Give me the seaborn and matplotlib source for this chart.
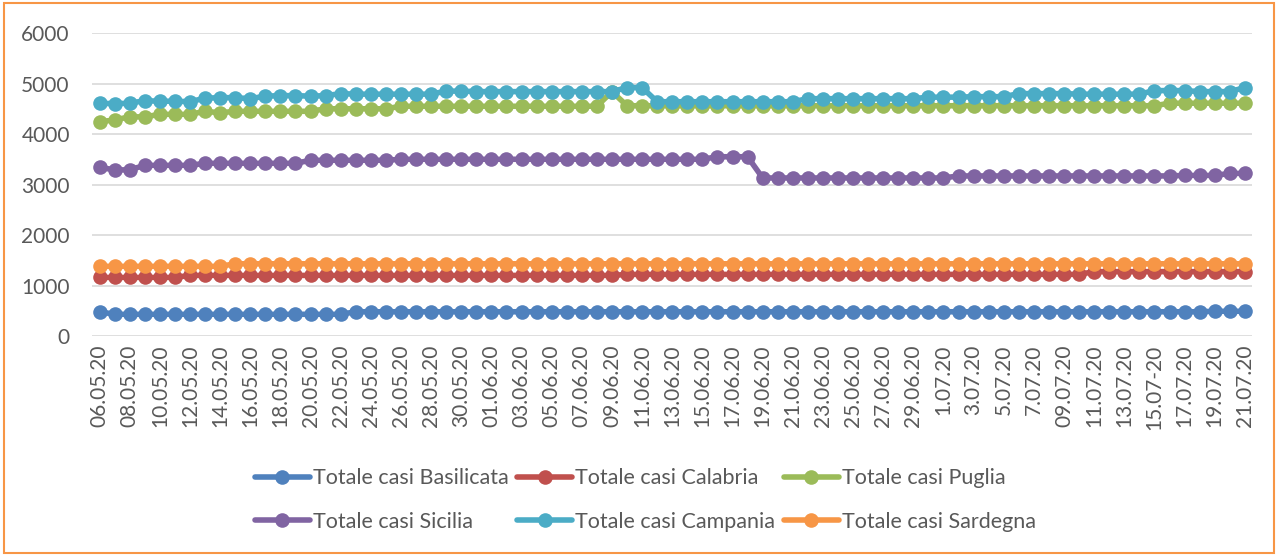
import numpy as np
import pandas as pd
import seaborn as sns
import matplotlib.pyplot as plt
from matplotlib.patches import Rectangle

# tick labels shown on the x axis (every second day)
tick_labels = ["06.05.20", "08.05.20", "10.05.20", "12.05.20", "14.05.20", "16.05.20",
               "18.05.20", "20.05.20", "22.05.20", "24.05.20", "26.05.20", "28.05.20",
               "30.05.20", "01.06.20", "03.06.20", "05.06.20", "07.06.20", "09.06.20",
               "11.06.20", "13.06.20", "15.06.20", "17.06.20", "19.06.20", "21.06.20",
               "23.06.20", "25.06.20", "27.06.20", "29.06.20", "1.07.20", "3.07.20",
               "5.07.20", "7.07.20", "09.07.20", "11.07.20", "13.07.20", "15.07-20",
               "17.07.20", "19.07.20", "21.07.20"]

# daily values 06.05.20 -> 21.07.20 (77 days)
basilicata = [480, 430, 430, 430, 430, 430, 430, 430, 430, 430,
              430, 430, 430, 430, 430, 430, 430, 480, 480, 480,
              480, 480, 480, 480, 480, 480, 480, 480, 480, 480,
              480, 480, 480, 480, 480, 480, 480, 480, 480, 480,
              480, 480, 480, 480, 480, 480, 480, 480, 480, 480,
              480, 480, 480, 480, 480, 480, 480, 480, 480, 480,
              480, 480, 480, 480, 480, 480, 480, 480, 480, 480,
              480, 480, 480, 480, 490, 490, 490]

calabria = [1160, 1160, 1160, 1160, 1160, 1160, 1200, 1200, 1200, 1200,
            1200, 1200, 1200, 1200, 1200, 1200, 1200, 1200, 1200, 1200,
            1200, 1200, 1200, 1200, 1200, 1200, 1200, 1200, 1200, 1200,
            1200, 1200, 1200, 1200, 1200, 1220, 1220, 1220, 1220, 1220,
            1220, 1220, 1220, 1220, 1220, 1220, 1220, 1220, 1220, 1220,
            1220, 1220, 1220, 1220, 1220, 1220, 1220, 1220, 1220, 1220,
            1220, 1220, 1220, 1220, 1220, 1220, 1275, 1275, 1275, 1275,
            1275, 1275, 1275, 1275, 1275, 1275, 1275]

puglia = [4240, 4280, 4340, 4340, 4390, 4390, 4390, 4450, 4420, 4450,
          4450, 4450, 4450, 4450, 4450, 4500, 4500, 4500, 4500, 4500,
          4550, 4550, 4550, 4550, 4550, 4550, 4550, 4550, 4550, 4550,
          4550, 4550, 4550, 4550, 4840, 4560, 4560, 4560, 4560, 4560,
          4560, 4560, 4560, 4560, 4560, 4560, 4560, 4560, 4560, 4560,
          4560, 4560, 4560, 4560, 4560, 4560, 4560, 4560, 4560, 4560,
          4560, 4560, 4560, 4560, 4560, 4560, 4560, 4560, 4560, 4560,
          4560, 4610, 4610, 4610, 4610, 4610, 4610]

sicilia = [3340, 3290, 3290, 3380, 3380, 3380, 3380, 3420, 3420, 3420,
           3420, 3420, 3420, 3420, 3480, 3480, 3480, 3480, 3480, 3480,
           3500, 3500, 3500, 3500, 3500, 3500, 3500, 3500, 3500, 3500,
           3500, 3500, 3500, 3500, 3500, 3500, 3500, 3500, 3500, 3500,
           3500, 3550, 3550, 3550, 3130, 3130, 3130, 3130, 3130, 3130,
           3130, 3130, 3130, 3130, 3130, 3130, 3130, 3170, 3170, 3170,
           3170, 3170, 3170, 3170, 3170, 3170, 3170, 3170, 3170, 3170,
           3170, 3170, 3180, 3180, 3180, 3220, 3220]

campania = [4610, 4600, 4610, 4660, 4650, 4650, 4640, 4710, 4720, 4720,
            4700, 4750, 4760, 4760, 4750, 4760, 4800, 4790, 4790, 4790,
            4790, 4790, 4790, 4850, 4850, 4840, 4840, 4840, 4840, 4840,
            4840, 4840, 4840, 4840, 4840, 4920, 4920, 4640, 4640, 4640,
            4640, 4640, 4640, 4640, 4640, 4640, 4640, 4700, 4700, 4700,
            4700, 4700, 4700, 4700, 4700, 4730, 4730, 4730, 4740, 4740,
            4740, 4800, 4800, 4800, 4800, 4790, 4790, 4790, 4790, 4790,
            4860, 4860, 4860, 4840, 4840, 4840, 4920]

sardegna = [1380, 1380, 1380, 1380, 1380, 1380, 1380, 1380, 1380, 1430,
            1430, 1430, 1430, 1430, 1430, 1430, 1430, 1430, 1430, 1430,
            1430, 1430, 1430, 1430, 1430, 1430, 1430, 1430, 1430, 1430,
            1430, 1430, 1430, 1430, 1430, 1430, 1430, 1430, 1430, 1430,
            1430, 1430, 1430, 1430, 1430, 1430, 1430, 1430, 1430, 1430,
            1430, 1430, 1430, 1430, 1430, 1430, 1430, 1430, 1430, 1430,
            1430, 1430, 1430, 1430, 1430, 1430, 1430, 1430, 1430, 1430,
            1430, 1430, 1430, 1430, 1430, 1430, 1430]

series_names = ["Totale casi Basilicata", "Totale casi Calabria", "Totale casi Puglia",
                "Totale casi Sicilia", "Totale casi Campania", "Totale casi Sardegna"]
colors = ["#4F81BD", "#C0504D", "#9BBB59", "#8064A2", "#4BACC6", "#F79646"]

# long form table for seaborn
day = np.arange(len(basilicata))
frames = []
for name, vals in zip(series_names, [basilicata, calabria, puglia, sicilia, campania, sardegna]):
    frames.append(pd.DataFrame({"day": day, "casi": vals, "serie": name}))
df = pd.concat(frames, ignore_index=True)

sns.set_theme(style="white")
plt.rcParams['font.family'] = ['Lato', 'DejaVu Sans']

fig = plt.figure(figsize=(12.78, 5.55), dpi=100)
ax = fig.add_axes([0.072, 0.3946, 0.908, 0.5459])

sns.lineplot(data=df, x="day", y="casi", hue="serie", hue_order=series_names,
             palette=dict(zip(series_names, colors)), marker="o", markersize=10.5,
             markeredgewidth=0, linewidth=4, ax=ax, legend=False)

ax.set_xlim(-0.5, len(day) - 0.5)
ax.set_ylim(0, 6000)
ax.set_yticks(range(0, 6001, 1000))
ax.set_xticks(day[::2])
ax.set_xticklabels(tick_labels, rotation=90)
ax.set_xlabel("")
ax.set_ylabel("")
ax.grid(axis="y", color="#D9D9D9", linewidth=1.2)
ax.set_axisbelow(True)
for s in ax.spines.values():
    s.set_visible(False)
ax.tick_params(axis="y", length=0, pad=16, labelsize=15, labelcolor="#595959")
ax.tick_params(axis="x", length=0, pad=6, labelsize=15, labelcolor="#595959")

# legend rows like Excel: order handles column by column
handles = [plt.Line2D([], [], color=c, linewidth=4, marker="o", markersize=10.5,
                      markeredgewidth=0) for c in colors]
order = [0, 3, 1, 4, 2, 5]
fig.legend([handles[i] for i in order], [series_names[i] for i in order],
           loc="center", bbox_to_anchor=(0.505, 0.099), ncol=3, frameon=False,
           fontsize=15.5, handlelength=2.55, handletextpad=0.15, columnspacing=0.4,
           labelspacing=1.08, numpoints=1, labelcolor="#595959")

# orange outline around the chart area
fig.patches.append(Rectangle((0.003, 0.004), 0.994, 0.99, transform=fig.transFigure,
                             fill=False, edgecolor="#F79646", linewidth=1.5))

fig.savefig("out.png", dpi=100)
